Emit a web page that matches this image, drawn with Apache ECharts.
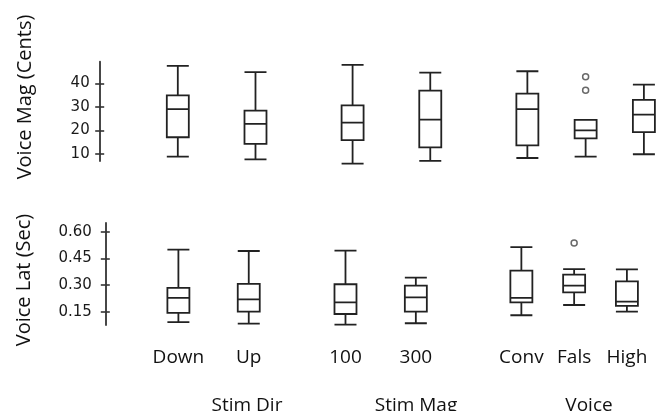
<!DOCTYPE html>
<html><head><meta charset="utf-8">
<script src="https://cdn.jsdelivr.net/npm/echarts@6/dist/echarts.min.js"></script>
<style>html,body{margin:0;padding:0;background:#fff}#c{width:670px;height:411px}</style>
</head><body><div id="c"></div>
<script>
// ---- data ----
const categories = ['Down', 'Up', '100', '300', 'Conv', 'Fals', 'High'];
const groupLabels = ['Stim Dir', 'Stim Mag', 'Voice'];
const magTitle = 'Voice Mag (Cents)';
const latTitle = 'Voice Lat (Sec)';
const magTicks = [10, 20, 30, 40];
const latTicks = [0.15, 0.30, 0.45, 0.60];

const magMin = [8.9, 7.7, 5.9, 7.1, 8.3, 8.9, 9.9];
const magQ1  = [17.1, 14.3, 15.9, 12.8, 13.7, 16.6, 19.3];
const magMed = [29.0, 22.8, 23.3, 24.6, 29.0, 20.0, 26.7];
const magQ3  = [34.9, 28.4, 30.6, 36.9, 35.6, 24.5, 33.0];
const magMax = [47.4, 44.7, 47.8, 44.5, 45.1, 24.5, 39.4];
const magOutliers = [['Fals', 37.1], ['Fals', 42.8]];

const latMin = [0.091, 0.083, 0.077, 0.085, 0.130, 0.188, 0.150];
const latQ1  = [0.143, 0.150, 0.137, 0.150, 0.203, 0.259, 0.183];
const latMed = [0.228, 0.220, 0.203, 0.231, 0.228, 0.297, 0.207];
const latQ3  = [0.285, 0.307, 0.305, 0.297, 0.382, 0.359, 0.321];
const latMax = [0.501, 0.493, 0.495, 0.342, 0.515, 0.391, 0.389];
const latOutliers = [['Fals', 0.538]];

// ---- layout (category slots with spacing gaps) ----
const topSlots = [0, 4, 9, 13, 18, 21, 24], topCount = 25;
const botSlots = [0, 8, 19, 27, 39, 45, 51], botCount = 52;
function slotNames(slots, count) {
  const a = [];
  for (let i = 0; i < count; i++) {
    const k = slots.indexOf(i);
    a.push(k >= 0 ? categories[k] : 'gap' + i);
  }
  return a;
}
function rows(mn, q1, md, q3, mx) {
  return categories.map((c, i) => [c, mn[i], q1[i], md[i], q3[i], mx[i]]);
}
const LINE = '#222';
const dims = [{name: 'cat', type: 'ordinal'}, 'min', 'q1', 'med', 'q3', 'max'];

function yAxes(gridIndex, min, max, ticks, digits, offset, margin) {
  const base = {
    type: 'value', gridIndex, min, max, position: 'left', offset,
    splitLine: {show: false}
  };
  return [
    Object.assign({}, base, {
      axisLine: {show: true, lineStyle: {color: '#333', width: 1.8}},
      axisTick: {show: true, inside: false, length: 4.5, customValues: ticks,
                 lineStyle: {color: '#333', width: 1.6}},
      axisLabel: {show: true, customValues: ticks, margin,
                  formatter: v => Number(v).toFixed(digits),
                  fontFamily: 'DejaVu Sans', fontSize: 15, color: '#1a1a1a'}
    }),
    Object.assign({}, base, {
      axisLine: {show: false},
      axisTick: {show: true, inside: true, length: 4.5, customValues: ticks,
                 lineStyle: {color: '#333', width: 1.6}},
      axisLabel: {show: false}
    })
  ];
}

const boxStyle = {color: 'transparent', borderColor: LINE, borderWidth: 1.8};
const outStyle = {color: '#fff', borderColor: '#444', borderWidth: 1.5};

const chart = echarts.init(document.getElementById('c'), null, {renderer: 'canvas'});
chart.setOption({
  animation: false,
  backgroundColor: '#fff',
  dataset: [
    {dimensions: dims, source: rows(magMin, magQ1, magMed, magQ3, magMax)},
    {dimensions: dims, source: rows(latMin, latQ1, latMed, latQ3, latMax)}
  ],
  grid: [
    {left: 168.1, right: 16.4, top: 61.7, bottom: 250},
    {left: 174.0, right: 38.7, top: 223, bottom: 86}
  ],
  xAxis: [
    {type: 'category', gridIndex: 0, data: slotNames(topSlots, topCount), show: false},
    {type: 'category', gridIndex: 1, data: slotNames(botSlots, botCount),
     axisLine: {show: false}, axisTick: {show: false}, splitLine: {show: false},
     axisLabel: {interval: 0, margin: 23, fontFamily: 'Open Sans', fontSize: 19, color: '#111',
                 formatter: v => (String(v).indexOf('gap') === 0 ? '' : v)}}
  ],
  yAxis: [].concat(
    yAxes(0, 7.03, 49.16, magTicks, 0, 68.4, 10),
    yAxes(1, 0.075, 0.651, latTicks, 2, 68.7, 13.5)
  ),
  series: [
    {type: 'boxplot', datasetIndex: 0, xAxisIndex: 0, yAxisIndex: 0,
     encode: {x: 0, y: [1, 2, 3, 4, 5]}, boxWidth: [22, 22], itemStyle: boxStyle},
    {type: 'scatter', xAxisIndex: 0, yAxisIndex: 0, data: magOutliers,
     symbol: 'circle', symbolSize: 6, itemStyle: outStyle},
    {type: 'boxplot', datasetIndex: 1, xAxisIndex: 1, yAxisIndex: 2,
     encode: {x: 0, y: [1, 2, 3, 4, 5]}, boxWidth: [22, 22], itemStyle: boxStyle},
    {type: 'scatter', xAxisIndex: 1, yAxisIndex: 2, data: latOutliers,
     symbol: 'circle', symbolSize: 6, itemStyle: outStyle}
  ],
  graphic: [
    {type: 'text', x: 25, y: 97, rotation: Math.PI / 2,
     style: {text: magTitle, fontFamily: 'Open Sans', fontSize: 20, fill: '#111',
             textAlign: 'center', textVerticalAlign: 'middle'}},
    {type: 'text', x: 24, y: 280, rotation: Math.PI / 2,
     style: {text: latTitle, fontFamily: 'Open Sans', fontSize: 20, fill: '#111',
             textAlign: 'center', textVerticalAlign: 'middle'}},
    {type: 'text', x: 247, y: 396,
     style: {text: groupLabels[0], fontFamily: 'Open Sans', fontSize: 19, fill: '#111',
             textAlign: 'center', textVerticalAlign: 'top'}},
    {type: 'text', x: 416, y: 396,
     style: {text: groupLabels[1], fontFamily: 'Open Sans', fontSize: 19, fill: '#111',
             textAlign: 'center', textVerticalAlign: 'top'}},
    {type: 'text', x: 589, y: 396,
     style: {text: groupLabels[2], fontFamily: 'Open Sans', fontSize: 19, fill: '#111',
             textAlign: 'center', textVerticalAlign: 'top'}}
  ]
});
</script>
</body></html>
